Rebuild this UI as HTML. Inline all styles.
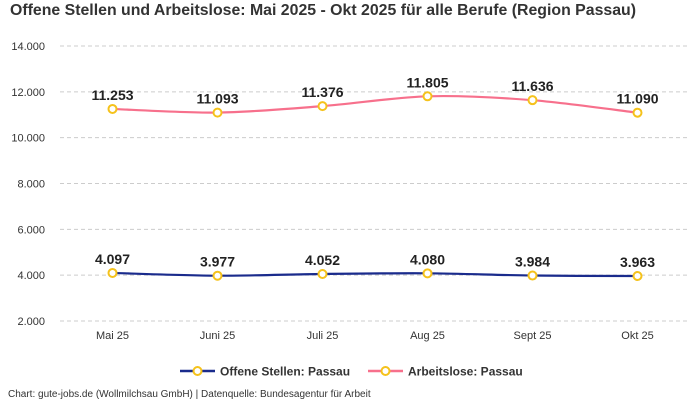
<!DOCTYPE html>
<html><head><meta charset="utf-8"><style>
body{margin:0;background:#fff;font-family:"Liberation Sans",sans-serif;}
</style></head><body>
<svg id="c" width="700" height="400" xmlns="http://www.w3.org/2000/svg">
<text x="10" y="15" font-size="16" font-weight="bold" fill="#333" textLength="626" lengthAdjust="spacingAndGlyphs">Offene Stellen und Arbeitslose: Mai 2025 - Okt 2025 für alle Berufe (Region Passau)</text>
<g id="grid"></g><g id="series"></g>
<g>
<g><line x1="180" y1="371" x2="215" y2="371" stroke="#1a2b8c" stroke-width="2.5"/><circle cx="197.5" cy="371" r="4" fill="#fff" stroke="#f5c21b" stroke-width="2"/><text x="220" y="375.5" font-size="12" font-weight="bold" fill="#333">Offene Stellen: Passau</text></g>
<g><line x1="368" y1="371" x2="403" y2="371" stroke="#f7708c" stroke-width="2.5"/><circle cx="385.5" cy="371" r="4" fill="#fff" stroke="#f5c21b" stroke-width="2"/><text x="408" y="375.5" font-size="12" font-weight="bold" fill="#333">Arbeitslose: Passau</text></g>
</g>
<text x="8" y="397" font-size="10" fill="#333">Chart: gute-jobs.de (Wollmilchsau GmbH) | Datenquelle: Bundesagentur für Arbeit</text>
</svg>
<script>
const categories=["Mai 25","Juni 25","Juli 25","Aug 25","Sept 25","Okt 25"];
const offeneStellen=[4097,3977,4052,4080,3984,3963];
const arbeitslose=[11253,11093,11376,11805,11636,11090];
const yTicks=[2000,4000,6000,8000,10000,12000,14000];
const NS="http://www.w3.org/2000/svg";
const x0=60,x1=690,yTop=46,yBot=321,vMin=2000,vMax=14000;
const xs=i=>x0+(x1-x0)/categories.length*(i+0.5);
const ys=v=>yBot-(v-vMin)/(vMax-vMin)*(yBot-yTop);
const fmt=v=>v.toLocaleString('de-DE').replace(/,/g,'.');
function mk(t,a,p){const e=document.createElementNS(NS,t);for(const k in a)e.setAttribute(k,a[k]);p.appendChild(e);return e;}
const grid=document.getElementById('grid'),ser=document.getElementById('series');
yTicks.forEach(v=>{
 const l=mk('line',{x1:x0,x2:x1,y1:ys(v),y2:ys(v),stroke:'#ccc','stroke-dasharray':'4,3'},grid);
 
 
 const t=mk('text',{x:45,y:ys(v)+4,'text-anchor':'end','font-size':11,fill:'#333'},grid);
 t.textContent=fmt(v);
 
 
});
categories.forEach((c,i)=>{
 const t=mk('text',{x:xs(i),y:339,'text-anchor':'middle','font-size':11,fill:'#333'},grid);
 t.textContent=c;
 
 
});
function path(pts){let d=`M${pts[0][0]},${pts[0][1]}`;for(let i=0;i<pts.length-1;i++){const p0=pts[i-1]||pts[i],p1=pts[i],p2=pts[i+1],p3=pts[i+2]||p2;const t=0.15;d+=` C${p1[0]+(p2[0]-p0[0])*t},${p1[1]+(p2[1]-p0[1])*t} ${p2[0]-(p3[0]-p1[0])*t},${p2[1]-(p3[1]-p1[1])*t} ${p2[0]},${p2[1]}`;}return d;}
function draw(vals,color,name){
 const pts=vals.map((v,i)=>[xs(i),ys(v)]);
 const p=mk('path',{d:path(pts),fill:'none',stroke:color,'stroke-width':2.2},ser);
 
 
 vals.forEach((v,i)=>{
  const c=mk('circle',{cx:xs(i),cy:ys(v),r:4,fill:'#fff',stroke:'#f5c21b','stroke-width':2},ser);
  
  
  const t=mk('text',{x:xs(i),y:ys(v)-9,'text-anchor':'middle','font-size':14,'font-weight':'bold',fill:'#222'},ser);
  t.textContent=fmt(v);
  
  
 });
}
draw(offeneStellen,'#1a2b8c','offene-stellen');
draw(arbeitslose,'#f7708c','arbeitslose');
</script>
</body></html>
